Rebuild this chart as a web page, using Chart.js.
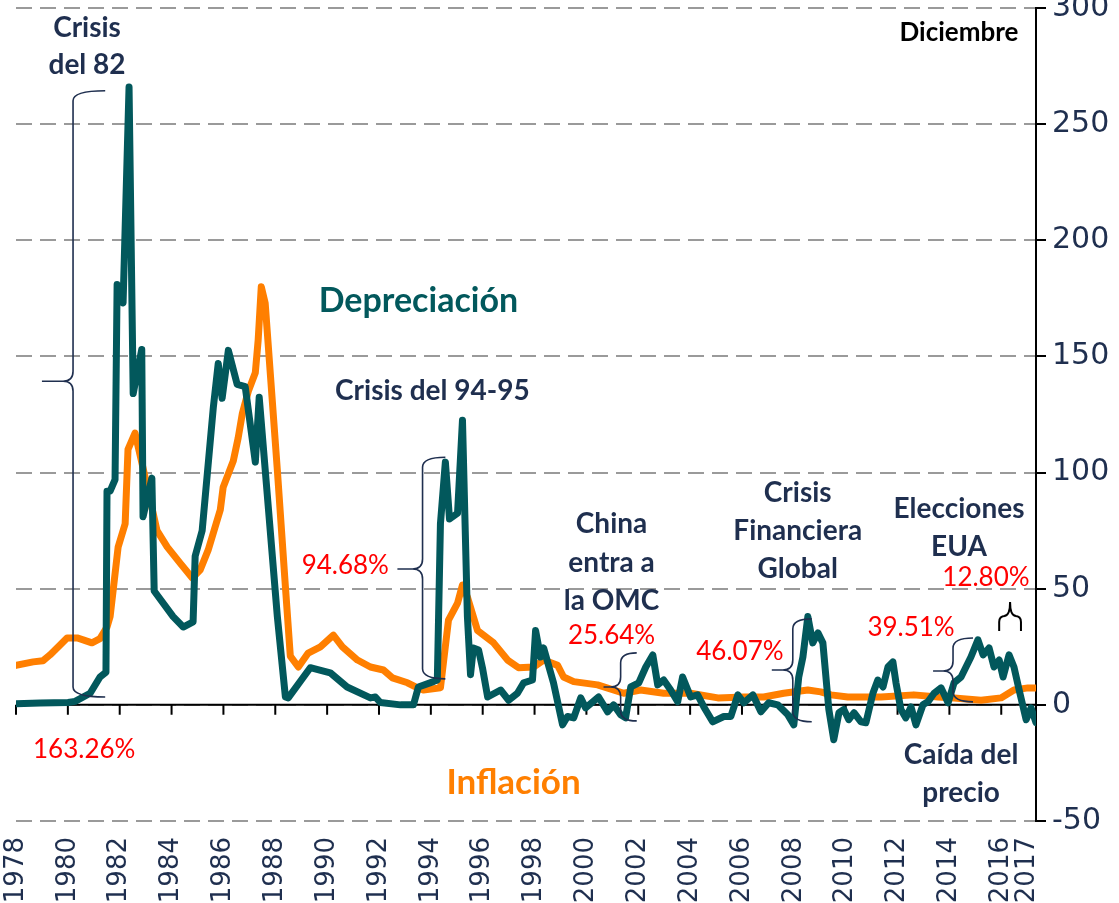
<!DOCTYPE html>
<html>
<head>
<meta charset="utf-8">
<script src="https://cdn.jsdelivr.net/npm/chart.js@4.4.1/dist/chart.umd.min.js"></script>
<style>
  html, body { margin: 0; padding: 0; background: #fff; }
</style>
</head>
<body>
<canvas id="myChart" width="1119" height="903"></canvas>
<script>
// Depreciacion (verde) - fecha decimal y valor
const depYears = [1978.00, 1978.93, 1980.01, 1980.28, 1980.86, 1981.24, 1981.47, 1981.51, 1981.63, 1981.82,
  1981.90, 1982.13, 1982.36, 1982.52, 1982.85, 1982.90, 1983.24, 1983.33, 1984.06, 1984.45,
  1984.83, 1984.91, 1985.18, 1985.61, 1985.80, 1985.95, 1986.19, 1986.53, 1986.84, 1987.23,
  1987.38, 1988.08, 1988.39, 1988.50, 1989.35, 1990.12, 1990.77, 1991.67, 1991.86, 1992.05,
  1992.83, 1993.33, 1993.52, 1994.10, 1994.25, 1994.37, 1994.56, 1994.72, 1995.03, 1995.22,
  1995.41, 1995.53, 1995.64, 1995.84, 1995.99, 1996.19, 1996.69, 1997.00, 1997.34, 1997.58,
  1997.92, 1998.04, 1998.23, 1998.35, 1998.73, 1999.08, 1999.27, 1999.51, 1999.78, 1999.97,
  2000.47, 2000.82, 2001.05, 2001.32, 2001.51, 2001.71, 2002.02, 2002.29, 2002.56, 2002.75,
  2002.98, 2003.25, 2003.52, 2003.71, 2004.02, 2004.29, 2004.53, 2004.87, 2005.30, 2005.57,
  2005.84, 2006.07, 2006.42, 2006.73, 2007.03, 2007.38, 2007.77, 2008.00, 2008.19, 2008.35,
  2008.54, 2008.73, 2008.93, 2009.12, 2009.35, 2009.54, 2009.74, 2009.93, 2010.12, 2010.32,
  2010.59, 2010.78, 2011.05, 2011.24, 2011.44, 2011.63, 2011.82, 2011.94, 2012.13, 2012.32,
  2012.52, 2012.71, 2012.98, 2013.17, 2013.41, 2013.68, 2013.95, 2014.18, 2014.45, 2014.83,
  2015.10, 2015.30, 2015.53, 2015.72, 2015.92, 2016.07, 2016.30, 2016.49, 2016.69, 2016.96,
  2017.15, 2017.34];
const depValues = [0.5, 0.8, 1, 1.5, 5, 12, 14, 92, 92, 97,
  181, 173, 266, 134, 153, 81, 97.6, 49, 38, 33.5,
  35.7, 64, 75, 128, 147, 132, 152.6, 138, 137, 104.5,
  132.4, 38, 3.4, 3, 16, 13.8, 7.7, 3, 3.4, 1,
  0, 0, 7.7, 10, 10.7, 78, 104.5, 80, 82.5, 122.5,
  38, 13, 24.5, 23.6, 16, 3.4, 6.4, 2, 5, 9.5,
  10.7, 32, 20.6, 24.5, 9.5, -8.6, -5, -5.6, 3, -1.3,
  3.4, -3, 0, -4.3, -5.6, 7.7, 9.5, 16.3, 21.5, 8.6,
  10.7, 6.4, 1.3, 12, 3.4, 4.3, -0.9, -7.3, -5, -5,
  4.3, 0.9, 4.3, -3, 0.9, 0, -4.3, -8.6, 12, 20.6,
  38, 26.7, 31, 26.7, -2, -15, -3.4, -2, -6.4, -3.4,
  -7.3, -7.7, 5, 10.7, 7.7, 16.3, 18.5, 9.5, -2, -5.6,
  -0.9, -8.6, 0, 1.3, 5, 7.3, 0.9, 9.5, 12, 20.6,
  28, 21.5, 24.5, 16.3, 19.3, 12, 21.5, 16.3, 6.4, -6.4,
  -1.3, -7.7];

// Inflacion (naranja)
const infYears = [1978.00, 1978.66, 1979.04, 1979.31, 1979.70, 1979.97, 1980.36, 1980.59, 1980.93, 1981.24,
  1981.51, 1981.63, 1981.94, 1982.21, 1982.32, 1982.59, 1982.90, 1983.44, 1983.83, 1984.33,
  1984.80, 1985.10, 1985.41, 1985.88, 1985.99, 1986.38, 1986.57, 1986.73, 1986.96, 1987.23,
  1987.34, 1987.46, 1987.61, 1988.08, 1988.39, 1988.58, 1988.89, 1989.27, 1989.74, 1990.24,
  1990.59, 1991.17, 1991.67, 1992.17, 1992.52, 1993.10, 1993.41, 1993.71, 1994.37, 1994.68,
  1995.03, 1995.22, 1995.41, 1995.80, 1996.42, 1996.96, 1997.38, 1997.96, 1998.35, 1998.89,
  1999.12, 1999.51, 2000.43, 2001.44, 2002.09, 2002.98, 2004.02, 2005.07, 2006.07, 2006.84,
  2007.61, 2008.54, 2009.04, 2009.43, 2010.08, 2011.36, 2012.63, 2013.56, 2014.18, 2015.22,
  2015.99, 2016.49, 2017.03, 2017.34];
const infValues = [17, 18.5, 19, 21.5, 25.8, 28.8, 28.8, 28, 26.7, 28.5,
  33.5, 38, 68, 78, 110, 117, 102, 75, 68, 61,
  54.6, 58, 66.6, 84, 93.7, 105, 115, 125.5, 135, 143,
  157, 180, 173, 101, 51, 21, 16.3, 22.3, 25, 30,
  25, 19.3, 16.3, 15, 11.6, 9.5, 7.7, 6.4, 7.3, 36.5,
  43.8, 51.6, 46.4, 32, 26.7, 19.3, 16, 16.3, 19.3, 17,
  12, 10, 8.6, 5, 6.4, 5, 5, 3, 3.4, 3.4,
  5, 6.4, 5.6, 4.3, 3.4, 3.4, 4.3, 3.4, 3, 2,
  3, 6.4, 7.3, 7.3];

const yearLabels = [1978, 1980, 1982, 1984, 1986, 1988, 1990, 1992, 1994, 1996, 1998,
  2000, 2002, 2004, 2006, 2008, 2010, 2012, 2014, 2016, 2017];
const tickYears = yearLabels.filter((y) => y % 2 === 0);

const navy = "#1F2F4F";
const teal = "#02585C";
const orange = "#FF7F00";

// textos: [texto, año, valor, tipo]
const notes = [
  ["Crisis", 1980.74, 291.5, "title"],
  ["del 82", 1980.74, 275.6, "title"],
  ["Depreciación", 1993.52, 173.7, "dep"],
  ["Crisis del 94-95", 1994.06, 135, "title"],
  ["Diciembre", 2014.37, 289.3, "dic"],
  ["China", 2000.97, 77.8, "title"],
  ["entra a", 2000.97, 61, "title"],
  ["la OMC", 2000.97, 44.7, "title"],
  ["Crisis", 2008.15, 91.1, "title"],
  ["Financiera", 2008.15, 74.8, "title"],
  ["Global", 2008.15, 58.5, "title"],
  ["Elecciones", 2014.37, 84.3, "title"],
  ["EUA", 2014.37, 67.9, "title"],
  ["Caída del", 2014.45, -21.5, "title"],
  ["precio", 2014.45, -37.8, "title"],
  ["Inflación", 1997.19, -33.5, "inf"],
  ["163.26%", 1980.63, -19.3, "pct"],
  ["94.68%", 1990.70, 59.8, "pct"],
  ["25.64%", 2000.97, 29.7, "pct"],
  ["46.07%", 2005.92, 22.8, "pct"],
  ["39.51%", 2012.52, 33.1, "pct"],
  ["12.80%", 2015.41, 54.6, "pct"],
];
const noteStyles = {
  title: { font: "bold 28px Lato", color: navy },
  dep: { font: "bold 34px Lato", color: teal },
  inf: { font: "bold 35px Lato", color: orange },
  dic: { font: "bold 26px Lato", color: "#000" },
  pct: { font: "26px Lato", color: "#FF0000" },
};

// llaves verticales: [año lomo, año punta, año extremo, valor arriba, valor abajo, valor punta]
const braces = [
  [1980.20, 1979.00, 1981.44, 264.4, 3.4, 139.3],
  [1993.68, 1992.71, 1994.56, 106.6, 11.2, 58.5],
  [2001.32, 2000.66, 2001.94, 22.4, -6.9, 7.7],
  [2007.96, 2007.15, 2008.69, 37, -7.3, 15],
  [2014.14, 2013.37, 2014.91, 28.8, 1.3, 14.6],
];
// llave horizontal: [año izq, año der, año punta, valor extremos, valor barra, valor punta]
const topBrace = [2015.92, 2016.76, 2016.34, 31.8, 38.3, 44.3];

function vBrace(ctx, xs, yTop, yBot, xTip, yMid, xEnd) {
  const r = 10;
  ctx.beginPath();
  ctx.moveTo(xEnd, yTop);
  ctx.quadraticCurveTo(xs, yTop, xs, yTop + r);
  ctx.lineTo(xs, yMid - r);
  ctx.quadraticCurveTo(xs, yMid, xs - r, yMid);
  ctx.lineTo(xTip, yMid);
  ctx.moveTo(xs - r, yMid);
  ctx.quadraticCurveTo(xs, yMid, xs, yMid + r);
  ctx.lineTo(xs, yBot - r);
  ctx.quadraticCurveTo(xs, yBot, xEnd, yBot);
  ctx.stroke();
}

function hBrace(ctx, xL, xR, xMid, yEnd, yBar, yTip) {
  const r = 6;
  ctx.beginPath();
  ctx.moveTo(xL, yEnd);
  ctx.lineTo(xL, yBar + r);
  ctx.quadraticCurveTo(xL, yBar, xL + r, yBar);
  ctx.lineTo(xMid - r, yBar);
  ctx.quadraticCurveTo(xMid, yBar, xMid, yTip);
  ctx.quadraticCurveTo(xMid, yBar, xMid + r, yBar);
  ctx.lineTo(xR - r, yBar);
  ctx.quadraticCurveTo(xR, yBar, xR, yBar + r);
  ctx.lineTo(xR, yEnd);
  ctx.stroke();
}

const zeroLine = {
  id: "zeroLine",
  beforeDatasetsDraw(chart) {
    const { ctx, chartArea, scales } = chart;
    const y0 = scales.y.getPixelForValue(0);
    ctx.save();
    ctx.strokeStyle = "#000";
    ctx.lineWidth = 2;
    ctx.beginPath();
    ctx.moveTo(chartArea.left, y0);
    ctx.lineTo(chartArea.right, y0);
    tickYears.forEach((yr) => {
      const px = scales.x.getPixelForValue(yr);
      ctx.moveTo(px, y0);
      ctx.lineTo(px, y0 + 10);
    });
    ctx.stroke();
    ctx.restore();
  },
};

const annotations = {
  id: "annotations",
  afterDraw(chart) {
    const { ctx, scales } = chart;
    const px = (v) => scales.x.getPixelForValue(v);
    const py = (v) => scales.y.getPixelForValue(v);
    ctx.save();
    ctx.strokeStyle = navy;
    ctx.lineWidth = 1.6;
    braces.forEach((b) => {
      vBrace(ctx, px(b[0]), py(b[3]), py(b[4]), px(b[1]), py(b[5]), px(b[2]));
    });
    ctx.strokeStyle = "#000";
    ctx.lineWidth = 2;
    hBrace(ctx, px(topBrace[0]), px(topBrace[1]), px(topBrace[2]),
      py(topBrace[3]), py(topBrace[4]), py(topBrace[5]));

    ctx.textAlign = "center";
    ctx.textBaseline = "middle";
    notes.forEach((n) => {
      const st = noteStyles[n[3]];
      ctx.font = st.font;
      ctx.fillStyle = st.color;
      ctx.fillText(n[0], px(n[1]), py(n[2]));
    });
    ctx.restore();
  },
};

const chartCanvas = document.getElementById("myChart");
const myChart = new Chart(chartCanvas, {
  type: "line",
  data: {
    datasets: [
      {
        label: "Depreciación",
        data: depYears.map((yr, i) => ({ x: yr, y: depValues[i] })),
        borderColor: teal,
        borderWidth: 7,
      },
      {
        label: "Inflación",
        data: infYears.map((yr, i) => ({ x: yr, y: infValues[i] })),
        borderColor: orange,
        borderWidth: 7,
      },
    ],
  },
  options: {
    responsive: false,
    animation: false,
    layout: { padding: { left: 16, top: 8, right: 0, bottom: 0 } },
    plugins: { legend: { display: false }, tooltip: { enabled: false } },
    elements: {
      point: { radius: 0 },
      line: { tension: 0, borderJoinStyle: "round", borderCapStyle: "round" },
    },
    scales: {
      x: {
        type: "linear",
        min: 1978,
        max: 2017.34,
        grid: { display: false, drawTicks: false },
        border: { display: false },
        afterBuildTicks: (s) => {
          s.ticks = yearLabels.map((v) => ({ value: v }));
        },
        afterFit: (s) => {
          s.height = 82;
          s.paddingLeft = 0;
          s.paddingRight = 0;
        },
        ticks: {
          autoSkip: false,
          minRotation: 90,
          maxRotation: 90,
          padding: 16,
          color: navy,
          font: { family: "DejaVu Sans", size: 26 },
          callback: (v) => String(v),
        },
      },
      y: {
        position: "right",
        min: -50,
        max: 300,
        afterFit: (s) => {
          s.width = 83;
          s.paddingTop = 0;
          s.paddingBottom = 0;
        },
        grid: {
          color: "#9A9A9A",
          lineWidth: 2,
          drawTicks: true,
          tickLength: 10,
          tickColor: "#000",
          tickWidth: 2,
          tickBorderDash: [],
        },
        border: { display: true, color: "#000", width: 2, dash: [16, 8] },
        ticks: {
          stepSize: 50,
          padding: 6,
          color: navy,
          font: { family: "DejaVu Sans", size: 30 },
        },
      },
    },
  },
  plugins: [zeroLine, annotations],
});
</script>
</body>
</html>
